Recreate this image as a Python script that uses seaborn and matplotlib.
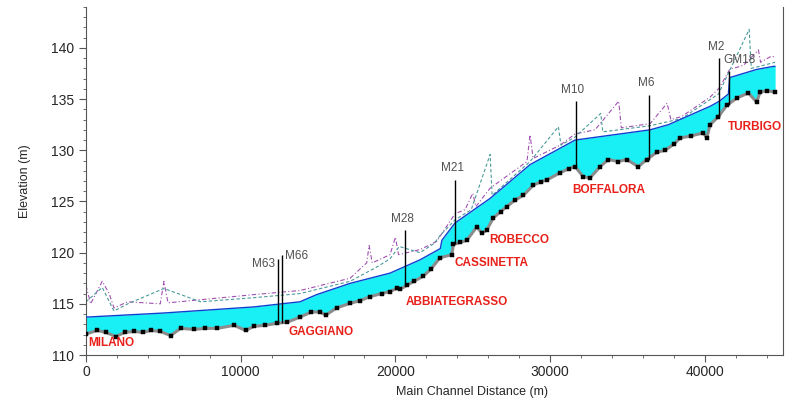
import numpy as np
import pandas as pd
import seaborn as sns
import matplotlib.pyplot as plt
from matplotlib.ticker import MultipleLocator

# --- channel bed (thalweg) ---
bed_x = [0, 730, 1300, 1920, 2500, 3100, 3700, 4180, 4800, 5470, 6120, 7000, 7700, 8490,
         9570, 10320, 10860, 11600, 12330, 13000, 13830, 14560, 15130, 15500, 16200, 17070,
         17700, 18360, 19100, 19650, 20080, 20300, 20730, 21200, 21800, 22300, 22880, 23640,
         23750, 24200, 24610, 25250, 25600, 25900, 26330, 26800, 27190, 27700, 28270, 28920,
         29380, 29780, 30640, 31200, 31610, 32150, 32580, 33230, 33760, 34400, 34950, 35700,
         36240, 36890, 37430, 38000, 38400, 39100, 39900, 40120, 40340, 40880, 41420, 42060,
         42810, 43350, 43570, 44000, 44540]
bed_z = [112.05, 112.4, 112.2, 111.8, 112.2, 112.3, 112.2, 112.4, 112.3, 111.9, 112.6, 112.5,
         112.6, 112.6, 112.9, 112.4, 112.8, 112.9, 113.1, 113.2, 113.7, 114.2, 114.2, 113.9,
         114.6, 115.05, 115.3, 115.7, 116.0, 116.2, 116.5, 116.4, 116.8, 117.2, 117.7, 118.4,
         119.5, 119.8, 120.8, 121.0, 121.2, 122.5, 121.9, 122.2, 123.4, 124.0, 124.5, 125.1,
         125.6, 126.6, 126.9, 127.1, 127.8, 128.2, 128.4, 127.4, 127.3, 128.4, 129.1, 128.9,
         129.1, 128.4, 129.1, 129.8, 130.0, 130.6, 131.2, 131.4, 131.7, 131.2, 132.5, 133.3,
         134.4, 135.1, 135.6, 134.7, 135.7, 135.8, 135.7]

# --- water surface ---
ws_x = [0, 5000, 10860, 13830, 14910, 17070, 19650, 21590, 22900, 23000, 23850, 26120,
        28700, 30640, 31610, 36460, 37640, 40340, 40940, 41520, 41600, 43350, 44430, 44540]
ws_z = [113.7, 114.1, 114.7, 115.2, 115.9, 117.0, 118.0, 119.3, 120.4, 121.2, 122.9, 125.3,
        128.6, 130.2, 131.0, 132.0, 132.5, 134.3, 134.8, 135.5, 137.1, 137.9, 138.2, 138.2]

# --- left bank ---
lob_x = [0, 300, 1050, 1500, 1810, 2700, 4800, 5040, 5300, 7400, 10860, 13830, 17070, 18140,
         18300, 18500, 19650, 20000, 20200, 21590, 22670, 23850, 24500, 25000, 25200, 26120,
         28500, 28700, 28900, 30640, 31610, 32900, 34430, 34600, 36460, 37560, 37800, 38500,
         40340, 40880, 41200, 41600, 42500, 43460, 43600, 44300, 44540]
lob_z = [116.8, 115.0, 117.2, 116.0, 114.6, 115.2, 115.0, 117.2, 115.1, 115.4, 115.9, 116.3,
         117.5, 119.0, 120.7, 119.0, 119.8, 121.5, 119.8, 120.3, 121.1, 123.8, 124.2, 125.8,
         124.5, 126.3, 128.9, 131.5, 129.2, 130.5, 131.6, 132.0, 134.8, 132.2, 132.6, 134.6,
         133.0, 133.3, 135.2, 136.0, 136.8, 137.9, 138.3, 139.8, 138.6, 139.2, 139.1]

# --- right bank ---
rob_x = [0, 1050, 1810, 2700, 5040, 7400, 10860, 13830, 17070, 18800, 19650, 20250, 21590,
         22500, 22900, 23850, 24900, 26120, 26250, 28700, 30530, 30700, 31610, 33270, 33400,
         36460, 38500, 40880, 42860, 43000, 44540]
rob_z = [115.2, 116.6, 114.3, 115.0, 116.5, 115.2, 115.6, 116.0, 117.2, 118.6, 119.4, 120.6,
         120.0, 120.9, 121.7, 123.2, 124.2, 129.6, 125.6, 128.9, 132.3, 130.5, 131.3, 133.6,
         131.8, 132.4, 133.1, 135.5, 141.8, 138.0, 138.6]

# --- structures (bridges / weirs) ---
str_names = ['M63', 'M66', 'M28', 'M21', 'M10', 'M6', 'M2', 'GM18']
str_x = [12400, 12690, 20620, 23850, 31650, 36410, 40940, 41590]
str_bot = [113.1, 113.1, 116.8, 120.8, 128.4, 129.1, 133.3, 134.4]
str_top = [119.4, 119.8, 122.2, 127.1, 134.8, 135.4, 139.0, 137.7]

# --- towns ---
towns = ['MILANO', 'GAGGIANO', 'ABBIATEGRASSO', 'CASSINETTA', 'ROBECCO', 'BOFFALORA', 'TURBIGO']
town_x = [150, 15200, 23960, 26220, 28000, 33800, 43250]
town_z = [111.2, 112.2, 115.2, 119.0, 121.2, 126.1, 132.3]

sns.set_style('ticks')
plt.rcParams['font.family'] = ['Liberation Sans', 'DejaVu Sans']

fig = plt.figure(figsize=(7.91, 4.0), dpi=100)
ax = fig.add_axes([0.1087, 0.1125, 0.8812, 0.87])

bed = pd.DataFrame({'x': bed_x, 'z': bed_z})
ws = pd.DataFrame({'x': ws_x, 'z': ws_z})
lob = pd.DataFrame({'x': lob_x, 'z': lob_z})
rob = pd.DataFrame({'x': rob_x, 'z': rob_z})

# water body between bed and surface
grid = np.union1d(bed['x'], ws['x'])
ax.fill_between(grid, np.interp(grid, bed['x'], bed['z']), np.interp(grid, ws['x'], ws['z']),
                color='#19f0f5', lw=0, zorder=1)

sns.lineplot(data=lob, x='x', y='z', ax=ax, color='#a050b0', lw=0.8, ls=(0, (4, 2, 1, 2)),
             sort=False, zorder=2)
sns.lineplot(data=rob, x='x', y='z', ax=ax, color='#4a9a9a', lw=0.8, ls=(0, (3, 2)),
             sort=False, zorder=2)
sns.lineplot(data=ws, x='x', y='z', ax=ax, color='#1040d0', lw=1.0, sort=False, zorder=3)
sns.lineplot(data=bed, x='x', y='z', ax=ax, color='#8c8c8c', lw=2.2, sort=False, zorder=3)
sns.scatterplot(data=bed, x='x', y='z', ax=ax, color='black', marker='s', s=7,
                edgecolor='black', linewidth=0.3, zorder=4)

ax.vlines(str_x, str_bot, str_top, color='black', lw=1.0, zorder=5)
label_off = {'M63': (-2, -4, 'right'), 'M66': (2, -1, 'left')}
for name, sx, top in zip(str_names, str_x, str_top):
    dx, dy, ha = label_off.get(name, (-2, 4, 'center'))
    if name == 'GM18':
        dx = 7
    ax.annotate(name, (sx, top), xytext=(dx, dy), textcoords='offset points',
                ha=ha, va='center' if name in label_off else 'bottom',
                fontsize=8.5, color='#505050', zorder=6)

for t, tx, tz in zip(towns, town_x, town_z):
    ax.text(tx, tz, t, color='#e8201a', fontsize=8.5, fontweight='bold',
            ha='left' if t == 'MILANO' else 'center', va='center', zorder=6)

ax.set_xlim(0, 45050)
ax.set_ylim(110, 144)
ax.xaxis.set_major_locator(MultipleLocator(10000))
ax.xaxis.set_minor_locator(MultipleLocator(2000))
ax.yaxis.set_major_locator(MultipleLocator(5))
ax.yaxis.set_minor_locator(MultipleLocator(1))
ax.tick_params(which='major', length=5, labelsize=10, color='#555555')
ax.tick_params(axis='x', which='major', pad=2)
ax.tick_params(which='minor', length=2.5, color='#555555')
ax.spines['top'].set_visible(False)
for s in ['left', 'bottom', 'right']:
    ax.spines[s].set_color('#555555')
    ax.spines[s].set_linewidth(0.8)
ax.set_xlabel('Main Channel Distance (m)', fontsize=9)
ax.xaxis.set_label_coords(0.554, -0.09)
ax.set_ylabel('Elevation (m)', fontsize=9, labelpad=14)

fig.savefig('out.png', dpi=100)
